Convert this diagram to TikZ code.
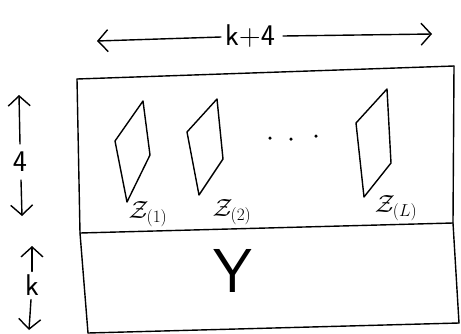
\documentclass[tikz,border=0pt]{standalone}
\usetikzlibrary{arrows.meta}
\begin{document}
\begin{tikzpicture}[x=1pt,y=-1pt,
  ink/.style={line width=1.4pt,line cap=round,line join=round,black},
  dimarrow/.style={ink,-{Straight Barb[length=10pt,width=22pt,line width=1.4pt]}},
  hand/.style={font=\sffamily\fontsize{30}{30}\selectfont,inner sep=0pt},
  zlab/.style={font=\fontsize{26}{26}\selectfont,inner sep=0pt},
  dotmark/.style={circle,fill=black,inner sep=0pt,minimum size=3.5pt}]
\useasboundingbox (0,0) rectangle (461,333);
% width dimension
\node[hand] (kp4) at (250,36) {k+4};
\coordinate (wl) at (97,41);
\coordinate (wr) at (432,34);
\draw[dimarrow] (kp4.west) ++(-4,1) -- (wl);
\draw[dimarrow] (kp4.east) ++(8,0) -- (wr);
% outer box
\coordinate (tl) at (77,79);
\coordinate (tr) at (454,66);
\coordinate (ml) at (80,233);
\coordinate (mr) at (453,223);
\coordinate (bl) at (88,333);
\coordinate (br) at (459,323);
\draw[ink] (tl) -- (tr);
\draw[ink] (tl) -- (ml) -- (bl);
\draw[ink] (tr) -- (mr) -- (br);
\draw[ink] (ml) -- (mr);
\draw[ink] (bl) -- (br);
% parallelograms
\draw[ink] (115,141) -- (143,101) -- (150,155) -- (127,202) -- cycle;
\draw[ink] (187,132) -- (217,99) -- (223,159) -- (199,195) -- cycle;
\draw[ink] (356,123) -- (387,89) -- (391,163) -- (364,197) -- cycle;
% dots
\node[dotmark] (d1) at (270,138) {};
\node[dotmark] (d2) at (291,139) {};
\node[dotmark] (d3) at (316,136) {};
% labels
\node[zlab] (z1) at (148,214) {$\mathcal{Z}_{(1)}$};
\node[zlab] (z2) at (232,212) {$\mathcal{Z}_{(2)}$};
\node[zlab] (zl) at (396,208) {$\mathcal{Z}_{(L)}$};
% Y
\node[font=\sffamily\fontsize{62}{62}\selectfont,inner sep=0pt] (Y) at (233,271) {Y};
% left dimension 4
\node[hand] (four) at (20,162) {4};
\coordinate (ut) at (19,95);
\coordinate (dt) at (22,216);
\draw[dimarrow] (four.north) ++(0,-8) -- (ut);
\draw[dimarrow] (four.south) ++(1,8) -- (dt);
% left dimension k
\node[hand] (kk) at (32,285) {k};
\coordinate (ku) at (32,246);
\coordinate (kd) at (29,330);
\draw[dimarrow] (kk.north) ++(0,-3) -- (ku);
\draw[dimarrow] (kk.south) ++(-1,4) -- (kd);
\end{tikzpicture}
\end{document}
